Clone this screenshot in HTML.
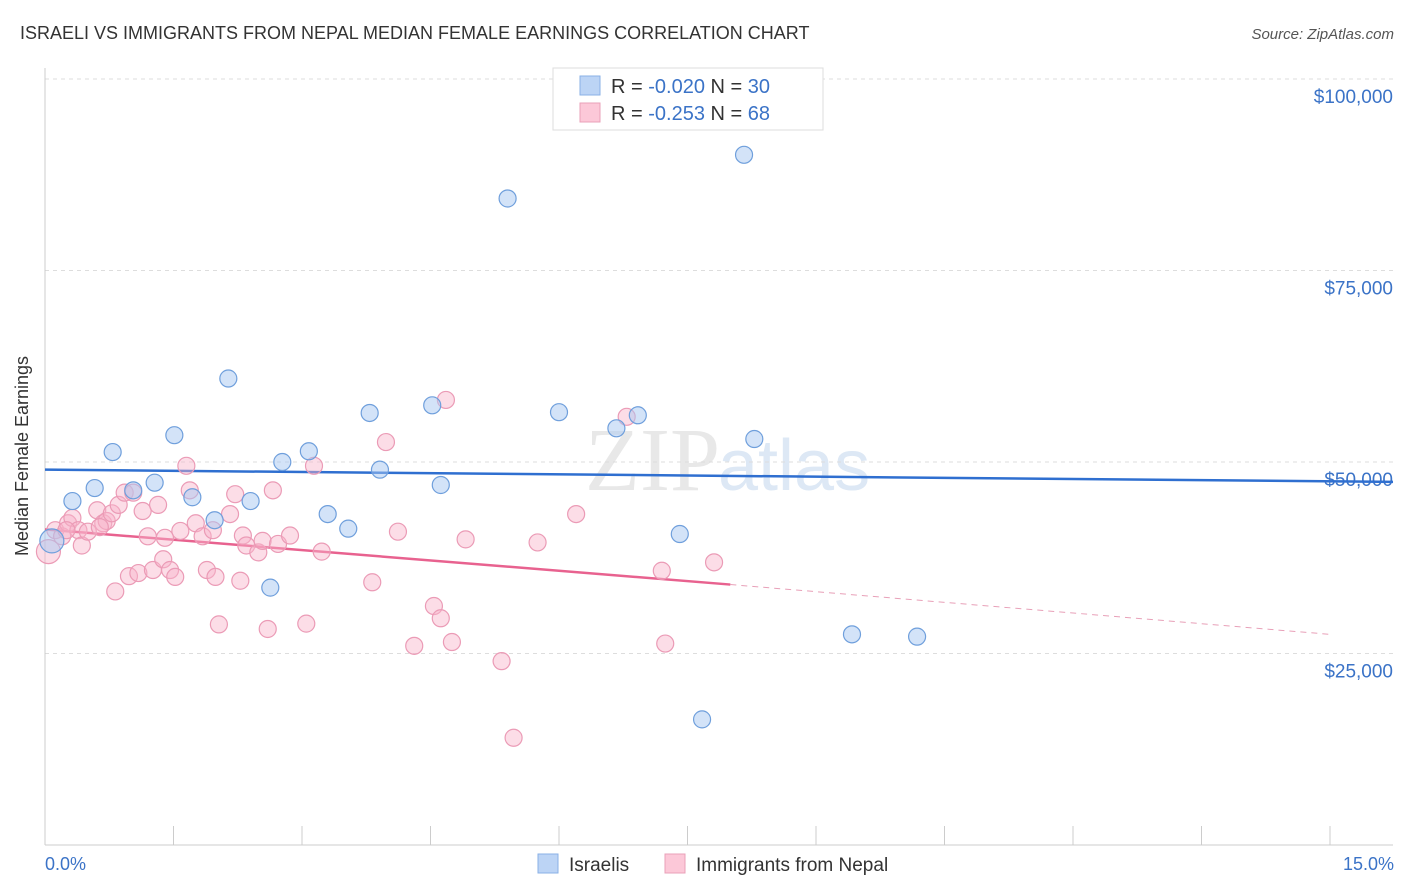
<!DOCTYPE html>
<html><head><meta charset="utf-8"><style>
body{margin:0;background:#fff;font-family:"Liberation Sans",sans-serif}
svg{display:block}
</style></head><body>
<svg id="c" width="1406" height="892">
<text x="20" y="39" font-size="18" fill="#333">ISRAELI VS IMMIGRANTS FROM NEPAL MEDIAN FEMALE EARNINGS CORRELATION CHART</text>
<text x="1394" y="39" font-size="15" fill="#555" font-style="italic" text-anchor="end">Source: ZipAtlas.com</text>
<text x="720" y="490" font-size="90" fill="#e8e8e8" text-anchor="end" font-family="Liberation Serif">ZIP</text>
<text x="718" y="490" font-size="72" fill="#dde8f5">atlas</text>
<g id="grid"></g><g id="axes"></g><g id="trend"></g><g id="pts"></g>
<text x="28" y="456" font-size="18" fill="#333" text-anchor="middle" transform="rotate(-90 28 456)">Median Female Earnings</text>
<g>
<rect x="553" y="68" width="270" height="62" fill="#fff" stroke="#ddd"/>
<rect x="580" y="76" width="20" height="19" fill="#bcd4f5" stroke="#8ab0e6"/>
<rect x="580" y="103" width="20" height="19" fill="#fcc8d8" stroke="#eaa0b8"/>
<text x="611" y="93" font-size="20" fill="#333">R = <tspan fill="#3b73c7">-0.020</tspan>   N = <tspan fill="#3b73c7">30</tspan></text>
<text x="611" y="120" font-size="20" fill="#333">R =  <tspan fill="#3b73c7">-0.253</tspan>   N = <tspan fill="#3b73c7">68</tspan></text>
</g>
<g>
<rect x="538" y="854" width="20" height="19" fill="#bcd4f5" stroke="#8ab0e6"/>
<text x="569" y="871" font-size="19" fill="#333">Israelis</text>
<rect x="665" y="854" width="20" height="19" fill="#fcc8d8" stroke="#eaa0b8"/>
<text x="696" y="871" font-size="19" fill="#333">Immigrants from Nepal</text>
</g>
<text x="45" y="870" font-size="18" fill="#3b73c7">0.0%</text>
<text x="1394" y="870" font-size="18" fill="#3b73c7" text-anchor="end">15.0%</text>
</svg>
<script>
const yTicks=[100000,75000,50000,25000];
const yTickLabels=["$100,000","$75,000","$50,000","$25,000"];
const israelX=[0.08,0.32,0.58,0.79,1.03,1.28,1.51,1.72,1.98,2.14,2.40,2.63,2.77,3.08,3.30,3.54,3.79,3.91,4.52,4.62,5.40,6.00,6.67,6.92,7.41,7.67,8.16,8.28,9.42,10.18];
const israelY=[39700,44900,46600,51300,46300,47300,53500,45400,42400,60900,44900,33600,50000,51400,43200,41300,56400,49000,57400,47000,84400,56500,54400,56100,40600,16400,90100,53000,27500,27200];
const nepalX=[0.04,0.12,0.20,0.27,0.32,0.39,0.43,0.50,0.61,0.68,0.72,0.78,0.82,0.86,0.93,0.98,1.03,1.09,1.14,1.20,1.26,1.32,1.38,1.46,1.52,1.58,1.65,1.69,1.76,1.84,1.89,1.96,1.99,2.03,2.16,2.22,2.28,2.31,2.35,2.49,2.54,2.60,2.66,2.72,2.86,3.05,3.14,3.23,3.82,3.98,4.12,4.31,4.54,4.62,4.68,4.75,4.91,5.33,5.47,5.75,6.20,6.79,7.20,7.24,7.81,1.40,0.64,0.25];
const nepalY=[38300,41100,40300,42000,42700,41100,39100,40900,43700,42000,42300,43300,33100,44400,46000,35100,46000,35500,43600,40300,35900,44400,37300,35900,35000,41000,49500,46300,42000,40300,35900,41100,35000,28800,43200,45800,34500,40400,39100,38200,39700,28200,46300,39300,40400,28900,49500,38300,34300,52600,40900,26000,31200,29600,58100,26500,39900,24000,14000,39500,43200,55900,35800,26300,36900,40100,41500,41100];
const blueTrend=[49000,47400];
const pinkTrend=[41200,34000,27500];
const X=v=>45+v*(1285/15), Y=v=>845-v*(191.5/25000);
const ns="http://www.w3.org/2000/svg";
function mk(t,a,p){const e=document.createElementNS(ns,t);for(const k in a)e.setAttribute(k,a[k]);p.appendChild(e);return e;}
const g=document.getElementById('grid');
yTicks.forEach((t,i)=>{
 const l=mk('line',{x1:45,x2:1393,y1:Y(t),y2:Y(t),stroke:'#ddd','stroke-dasharray':'4,4'},g);
 
 
 const tx=mk('text',{x:1393,y:Y(t)+24,'font-size':19,fill:'#3b73c7','text-anchor':'end'},g);
 tx.textContent=yTickLabels[i];
 
 
});
const ax=document.getElementById('axes');
mk('line',{x1:45,x2:45,y1:68,y2:845,stroke:'#ccc'},ax);
mk('line',{x1:45,x2:1393,y1:845,y2:845,stroke:'#ccc'},ax);
for(let i=1;i<=10;i++){const tk=mk('line',{x1:X(i*1.5),x2:X(i*1.5),y1:826,y2:845,stroke:'#ccc'},ax);
 
 }
const tr=document.getElementById('trend');
const bt=mk('line',{x1:X(0),y1:Y(blueTrend[0]),x2:1393,y2:Y(blueTrend[1]),stroke:'#2f6fd0','stroke-width':2.5},tr);


const pt=mk('line',{x1:X(0),y1:Y(pinkTrend[0]),x2:X(8),y2:Y(pinkTrend[1]),stroke:'#e8628f','stroke-width':2.5},tr);


const pd=mk('line',{x1:X(8),y1:Y(pinkTrend[1]),x2:X(15),y2:Y(pinkTrend[2]),stroke:'#e8a0b8','stroke-width':1,'stroke-dasharray':'6,5'},tr);


const P=document.getElementById('pts');
nepalX.forEach((x,i)=>{const c=mk('circle',{cx:X(x),cy:Y(nepalY[i]),r:i==0?12:8.5,fill:'rgba(248,180,202,0.45)',stroke:'#eb9bb6','stroke-width':1.2},P);
 
 });
israelX.forEach((x,i)=>{const c=mk('circle',{cx:X(x),cy:Y(israelY[i]),r:i==0?12:8.5,fill:'rgba(168,200,242,0.5)',stroke:'#6f9fdc','stroke-width':1.2},P);
 
 });
</script>
</body></html>
